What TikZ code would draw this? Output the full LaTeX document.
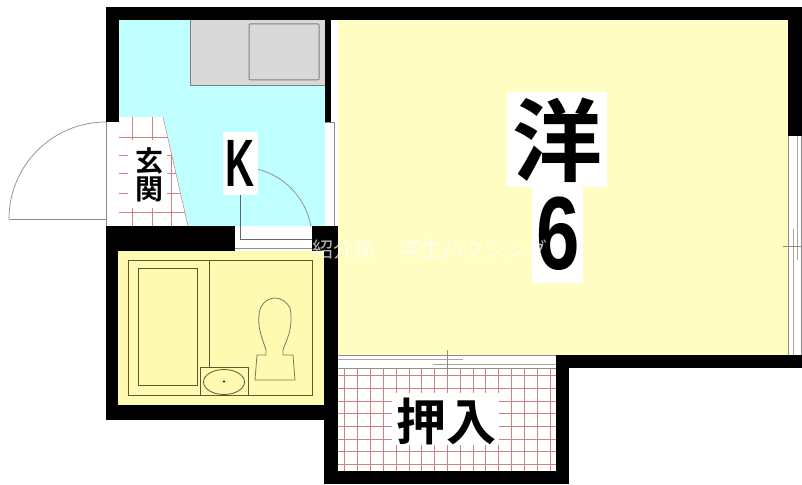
\documentclass[tikz,border=0pt]{standalone}
\usepackage{fontspec}
\setmainfont{Liberation Sans}
\newfontfamily\jp{Noto Sans CJK JP}[BoldFont={* Bold}]
\usetikzlibrary{calc}
\definecolor{kit}{HTML}{BFFFFF}
\definecolor{room}{HTML}{FFFDC2}
\definecolor{bath}{HTML}{FFFAB2}
\definecolor{counter}{HTML}{D9D9D9}
\definecolor{tile}{HTML}{D08080}
\definecolor{fix}{HTML}{5A5A30}
\tikzset{
  x=1pt,y=-1pt,
  wallf/.style={fill=black,draw=none},
  thin gray/.style={draw=black!45,line width=.7pt},
  sash/.style={draw=black!35,line width=1pt},
  fixture/.style={draw=fix,line width=.8pt},
  tilegrid/.style={draw=tile,line width=.7pt},
  labelbox/.style={fill=white,inner sep=0pt,text=black},
  ink/.style={inner sep=0pt,text=black},
}
\begin{document}
\begin{tikzpicture}
\useasboundingbox (0,0) rectangle (802,484);
\fill[white] (0,0) rectangle (802,484);
% floors
\fill[kit] (119,20) rectangle (325,226);
\fill[room] (338,20) rectangle (788,355);
\fill[white] (325,20) rectangle (338,226);
\fill[bath] (118,251) rectangle (324,405);
% genkan tiles
\fill[white] (119,117) -- (163,117) -- (188,226) -- (119,226) -- cycle;
\begin{scope}
\clip (119,117) -- (163,117) -- (188,226) -- (119,226) -- cycle;
\foreach \i in {132,152,171}{\draw[tilegrid] (\i,117) -- (\i,226);}
\foreach \i in {137,155,173,193,212}{\draw[tilegrid] (119,\i) -- (190,\i);}
\end{scope}
\draw[draw=tile,line width=.5pt] (163,117) -- (188,226);
% closet tiles
\fill[white] (338,355) rectangle (556,471);
\foreach \k in {0,...,16}{\draw[tilegrid] ({344.7+12.83*\k},369) -- ({344.7+12.83*\k},471);}
\foreach \k in {0,...,7}{\draw[tilegrid] (338,{375.7+12.67*\k}) -- (556,{375.7+12.67*\k});}
% closet door
\fill[white] (338,355) rectangle (556,369);
\draw[thin gray] (338,355) -- (788,355);
\draw[sash] (338,359) -- (463,359);
\draw[sash] (433,364) -- (556,364);
\draw[thin gray] (338,368.5) -- (556,368.5);
\draw[thin gray] (447,350) -- (447,373);
% counter
\fill[counter,draw=black!50,line width=.7pt] (190,20) -- (190,85) -- (325,85) -- (325,20);
\draw[draw=black!50,line width=1pt,rounded corners=1pt] (249,24) rectangle (319,80);
% walls
\fill[wallf] (106,7) rectangle (802,20);
\fill[wallf] (106,7) rectangle (119,122);
\fill[wallf] (325,20) rectangle (331,122);
\fill[wallf] (788,20) rectangle (802,136);
\fill[wallf] (106,226) rectangle (235,251);
\fill[wallf] (106,226) rectangle (118,420);
\fill[wallf] (106,405) rectangle (338,420);
\fill[wallf] (312,226) rectangle (338,251);
\fill[wallf] (324,251) rectangle (338,484);
\fill[wallf] (325,471) rectangle (569,484);
\fill[wallf] (556,355) rectangle (569,484);
\fill[wallf] (556,355) rectangle (802,368);
% window east
\draw[thin gray] (788,136) -- (788,355);
\draw[thin gray] (801,136) -- (801,355);
\draw[sash] (793,229) -- (793,355);
\draw[sash] (797,136) -- (797,260);
\draw[thin gray] (783,246) -- (802,246);
% partition strip
\draw[thin gray] (334,122) -- (334,226);
\draw[thin gray] (325,122) -- (334,122);
% entrance door
\coordinate (hingeA) at (106,219);
\coordinate (doorEnd) at (9,219);
\draw[thin gray] (doorEnd) -- (hingeA);
\draw[thin gray] (doorEnd) arc[start angle=180,end angle=270,radius=97];
\draw[thin gray] (106,122) -- (106,226);
% kitchen door
\coordinate (hingeB) at (240,239);
\draw[thin gray] (240,167) arc[start angle=270,end angle=350,radius=72];
\draw[draw=black!60,line width=.7pt] (240,195) -- (hingeB) -- (312,239);
\draw[thin gray] (235,248) -- (312,248);
% bath fixtures
\draw[fixture] (128,260) rectangle (312,395);
\draw[fixture] (138,268) rectangle (197,385);
\draw[fixture] (209,260) -- (209,367);
\draw[fixture] (200,367) rectangle (248,395);
\draw[fixture] (224,382) ellipse[x radius=20.5,y radius=12.5];
\fill[black] (224,381.5) circle[radius=1.1];
\draw[draw=fix!80!white,line width=.8pt] (255,380) -- (257,355) -- (266,355) -- (266,350) -- (261,335)
  .. controls (258,324) and (258,314) .. (261,307)
  .. controls (264,301) and (270,298) .. (275,298)
  .. controls (281,298) and (287,302) .. (290,308)
  .. controls (292,316) and (291,326) .. (289,334)
  -- (283,350) -- (283,355) -- (293,355) -- (295,380) -- cycle;
% labels
\node[labelbox,minimum width=35pt,minimum height=63pt] (kbox) at (240.5,163.5) {};
\node[ink,font=\fontsize{67}{67}\selectfont\bfseries] (klabel) at (240,163) {\scalebox{.6}[1]{K}};
\node[labelbox,minimum width=39pt,minimum height=68pt] (gbox) at (147.5,174) {};
\node[ink,font=\jp\bfseries\fontsize{28}{30}\selectfont,align=center] (genkan) at (149,175) {玄\\[-2pt]関};
\node[labelbox,minimum width=107pt,minimum height=52pt] (obox) at (445.5,419) {};
\node[ink,font=\jp\bfseries\fontsize{50}{50}\selectfont] (oshiire) at (446,421) {押入};
\node[labelbox,minimum width=100pt,minimum height=95pt] (ybox) at (557,139.5) {};
\node[ink,font=\jp\bfseries\fontsize{90}{90}\selectfont] (you) at (557.5,140) {洋};
\node[labelbox,minimum width=51pt,minimum height=96pt] (sbox) at (557.5,235) {};
\node[ink,font=\fontsize{104}{104}\selectfont\bfseries] (six) at (558.5,234) {\scalebox{.75}[1]{6}};
% watermark
\node[inner sep=0pt,text=white,opacity=.7,font=\jp\fontsize{21}{21}\selectfont,anchor=west] (mark) at (312,249) {紹介係\hspace{25pt}学生ハウジング};
\end{tikzpicture}
\end{document}
